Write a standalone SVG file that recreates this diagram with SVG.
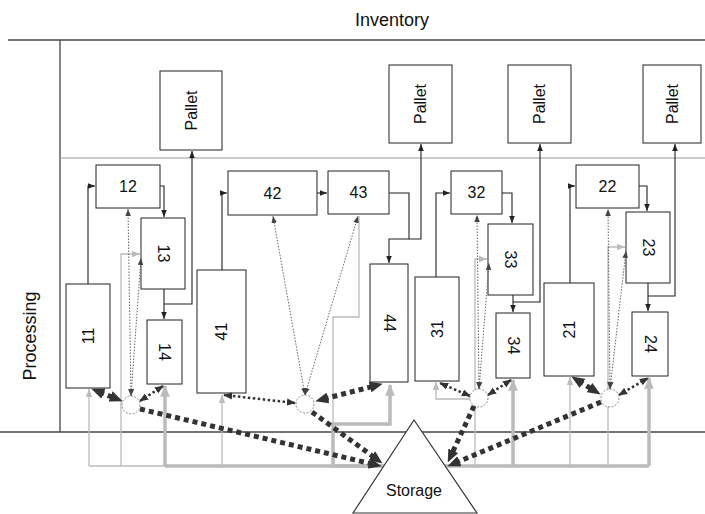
<svg xmlns="http://www.w3.org/2000/svg" width="705" height="514" viewBox="0 0 705 514">
<defs>
<style>
.frame{stroke:#444;stroke-width:1.3;fill:none}
.mid{stroke:#999;stroke-width:1;fill:none}
.box{fill:#fff;stroke:#222;stroke-width:1}
.t{font-family:"Liberation Sans",Arial,sans-serif;font-size:16px;fill:#111;text-anchor:middle;dominant-baseline:central}
.lbl{font-family:"Liberation Sans",Arial,sans-serif;fill:#111;text-anchor:middle}
.c{fill:none;stroke:#222;stroke-width:1.1;marker-end:url(#ah)}
.g{fill:none;stroke:#bbb;stroke-width:1.3}
.ga{fill:none;stroke:#bbb;stroke-width:1.3;marker-end:url(#ag)}
.gk{fill:none;stroke:#bbb;stroke-width:3.5}
.gka{fill:none;stroke:#bbb;stroke-width:3.5;marker-end:url(#agk)}
.dt{fill:none;stroke:#666;stroke-width:1;stroke-dasharray:1.5 1.5;marker-start:url(#as);marker-end:url(#as)}
.dm{fill:none;stroke:#333;stroke-width:2.5;stroke-dasharray:2.5 2.5;marker-start:url(#am);marker-end:url(#am)}
.dk{fill:none;stroke:#333;stroke-width:5;stroke-dasharray:5 4;marker-end:url(#ab)}
.dk2{fill:none;stroke:#333;stroke-width:5;stroke-dasharray:5 4;marker-start:url(#ab);marker-end:url(#ab)}
.node{fill:#fff;stroke:#888;stroke-width:1;stroke-dasharray:2 1.5}
</style>
<marker id="ah" viewBox="0 0 10 8" refX="10" refY="4" markerWidth="7" markerHeight="6" markerUnits="userSpaceOnUse" orient="auto"><path d="M0,0 L10,4 L0,8 z" fill="#222"/></marker>
<marker id="as" viewBox="0 0 10 8" refX="10" refY="4" markerWidth="7" markerHeight="6" markerUnits="userSpaceOnUse" orient="auto-start-reverse"><path d="M0,0 L10,4 L0,8 z" fill="#444"/></marker>
<marker id="am" viewBox="0 0 10 8" refX="9" refY="4" markerWidth="9" markerHeight="8" markerUnits="userSpaceOnUse" orient="auto-start-reverse"><path d="M0,0 L10,4 L0,8 z" fill="#333"/></marker>
<marker id="ab" viewBox="0 0 12 10" refX="4" refY="5" markerWidth="13" markerHeight="11" markerUnits="userSpaceOnUse" orient="auto-start-reverse"><path d="M0,0 L12,5 L0,10 z" fill="#333"/></marker>
<marker id="ag" viewBox="0 0 10 8" refX="10" refY="4" markerWidth="8" markerHeight="7" markerUnits="userSpaceOnUse" orient="auto"><path d="M0,0 L10,4 L0,8 z" fill="#bbb"/></marker>
<marker id="agk" viewBox="0 0 10 8" refX="9" refY="4" markerWidth="12" markerHeight="10" markerUnits="userSpaceOnUse" orient="auto"><path d="M0,0 L10,4 L0,8 z" fill="#bbb"/></marker>
</defs>
<rect width="705" height="514" fill="#fff"/>

<g id="frame">
<line class="frame" x1="8" y1="40" x2="705" y2="40"/>
<line class="frame" x1="60" y1="40" x2="60" y2="432"/>
<line class="mid" x1="60" y1="158" x2="705" y2="158"/>
<line class="frame" x1="0" y1="432" x2="705" y2="432"/>
<text class="lbl" x="392" y="26" font-size="18">Inventory</text>
<text class="lbl" font-size="18" transform="translate(36,336) rotate(-90)">Processing</text>
</g>

<g id="storage-feeds">
<path class="ga" d="M89,466 V389"/>
<path class="ga" d="M121,466 V254 H140"/>
<path class="gka" d="M165,466 V386"/>
<path class="ga" d="M222,466 V395"/>
<path class="g" d="M89,466 H165"/>
<path class="gk" d="M165,466 H384"/>
<path class="g" d="M359,216 V317 H333 V424"/>
<path class="gka" d="M384,466 H333 V424 H390 V385"/>
<path class="ga" d="M470,399 H436 V382"/>
<path class="ga" d="M475,466 V259 H487"/>
<path class="gka" d="M513,466 V380"/>
<path class="gk" d="M445,466 H649"/>
<path class="ga" d="M570,466 V377"/>
<path class="ga" d="M608,466 V247 H625"/>
<path class="gka" d="M649,466 V378"/>
</g>

<g id="storage">
<polygon points="414,420 353,513 477,513" fill="#fff" stroke="#333" stroke-width="1.2"/>
<text class="lbl" x="414" y="496" font-size="16">Storage</text>
</g>

<g id="pallet1"><rect class="box" x="160" y="71" width="62" height="79"/><text class="t" font-size="15" transform="translate(191,110.5) rotate(-90)">Pallet</text></g>
<g id="pallet2"><rect class="box" x="389" y="65" width="63" height="78"/><text class="t" font-size="15" transform="translate(420.5,104) rotate(-90)">Pallet</text></g>
<g id="pallet3"><rect class="box" x="508" y="65" width="63" height="78"/><text class="t" font-size="15" transform="translate(539.5,104) rotate(-90)">Pallet</text></g>
<g id="pallet4"><rect class="box" x="643" y="65" width="58" height="78"/><text class="t" font-size="15" transform="translate(672,104) rotate(-90)">Pallet</text></g>

<g id="n11"><rect class="box" x="66" y="284" width="44" height="104"/><text class="t" transform="translate(88,336) rotate(-90)">11</text></g>
<g id="n12"><rect class="box" x="96" y="165" width="64" height="43"/><text class="t" x="128" y="186.5">12</text></g>
<g id="n13"><rect class="box" x="141" y="218" width="44" height="71"/><text class="t" transform="translate(163,253.5) rotate(90)">13</text></g>
<g id="n14"><rect class="box" x="147" y="320" width="35" height="64"/><text class="t" transform="translate(164.5,352) rotate(90)">14</text></g>

<g id="n41"><rect class="box" x="197" y="270" width="49" height="123"/><text class="t" transform="translate(221.5,331.5) rotate(-90)">41</text></g>
<g id="n42"><rect class="box" x="228" y="171" width="89" height="44"/><text class="t" x="272.5" y="193">42</text></g>
<g id="n43"><rect class="box" x="328" y="171" width="61" height="43"/><text class="t" x="358.5" y="192.5">43</text></g>
<g id="n44"><rect class="box" x="370" y="264" width="38" height="118"/><text class="t" transform="translate(389,323) rotate(90)">44</text></g>

<g id="n31"><rect class="box" x="415" y="277" width="44" height="104"/><text class="t" transform="translate(437,329) rotate(-90)">31</text></g>
<g id="n32"><rect class="box" x="451" y="171" width="51" height="43"/><text class="t" x="476.5" y="192.5">32</text></g>
<g id="n33"><rect class="box" x="488" y="224" width="45" height="71"/><text class="t" transform="translate(510.5,259.5) rotate(90)">33</text></g>
<g id="n34"><rect class="box" x="496" y="313" width="34" height="65"/><text class="t" transform="translate(513,345.5) rotate(90)">34</text></g>

<g id="n21"><rect class="box" x="544" y="283" width="50" height="93"/><text class="t" transform="translate(569,329.5) rotate(-90)">21</text></g>
<g id="n22"><rect class="box" x="576" y="165" width="63" height="43"/><text class="t" x="607.5" y="186.5">22</text></g>
<g id="n23"><rect class="box" x="626" y="212" width="44" height="71"/><text class="t" transform="translate(648,247.5) rotate(90)">23</text></g>
<g id="n24"><rect class="box" x="632" y="312" width="36" height="64"/><text class="t" transform="translate(650,344) rotate(90)">24</text></g>

<g id="connectors">
<path class="c" d="M88,284 V186 H95"/>
<path class="c" d="M160,186 H164 V217"/>
<path class="c" d="M164,289 V319"/>
<path class="c" d="M164,304 H192 V151"/>
<path class="c" d="M222,270 V193 H227"/>
<path class="c" d="M317,193 H327"/>
<path class="c" d="M389,193 H409 V239 H389 V263"/>
<path class="c" d="M409,239 H421 V144"/>
<path class="c" d="M436,277 V193 H450"/>
<path class="c" d="M502,193 H512 V223"/>
<path class="c" d="M513,295 V312"/>
<path class="c" d="M513,302 H540 V144"/>
<path class="c" d="M570,283 V186 H575"/>
<path class="c" d="M639,186 H647 V211"/>
<path class="c" d="M648,283 V311"/>
<path class="c" d="M648,296 H675 V144"/>

<path class="dt" d="M131,396 L128,209"/>
<path class="dt" d="M131,396 L141,258"/>
<path class="dt" d="M305,395 L273,216"/>
<path class="dt" d="M305,395 L358,216"/>
<path class="dt" d="M479,389 L477,215"/>
<path class="dt" d="M479,389 L489,263"/>
<path class="dt" d="M610,389 L608,209"/>
<path class="dt" d="M610,389 L626,251"/>

<path class="dm" d="M140,401 L163,386"/>
<path class="dm" d="M295,403 L224,395"/>
<path class="dm" d="M470,396 L440,383"/>
<path class="dm" d="M488,395 L511,380"/>
<path class="dm" d="M619,395 L648,378"/>
</g>

<g id="c1"><circle class="node" cx="131" cy="405" r="9"/></g>
<g id="c4"><circle class="node" cx="305" cy="404" r="9"/></g>
<g id="c3"><circle class="node" cx="479" cy="398" r="9"/></g>
<g id="c2"><circle class="node" cx="610" cy="398" r="9"/></g>

<g id="flows">
<path class="dk2" d="M99.4,392 L114.6,398"/>
<path class="dk2" d="M323.7,399 L374.3,386"/>
<path class="dk2" d="M578.8,381.1 L593.2,389.9"/>
<path class="dk" d="M140,409 L373.2,464.2"/>
<path class="dk" d="M312,412 L375.5,458.3"/>
<path class="dk" d="M474,406 L451.4,454.7"/>
<path class="dk" d="M601,402 L455.4,462.9"/>
</g>
</svg>
